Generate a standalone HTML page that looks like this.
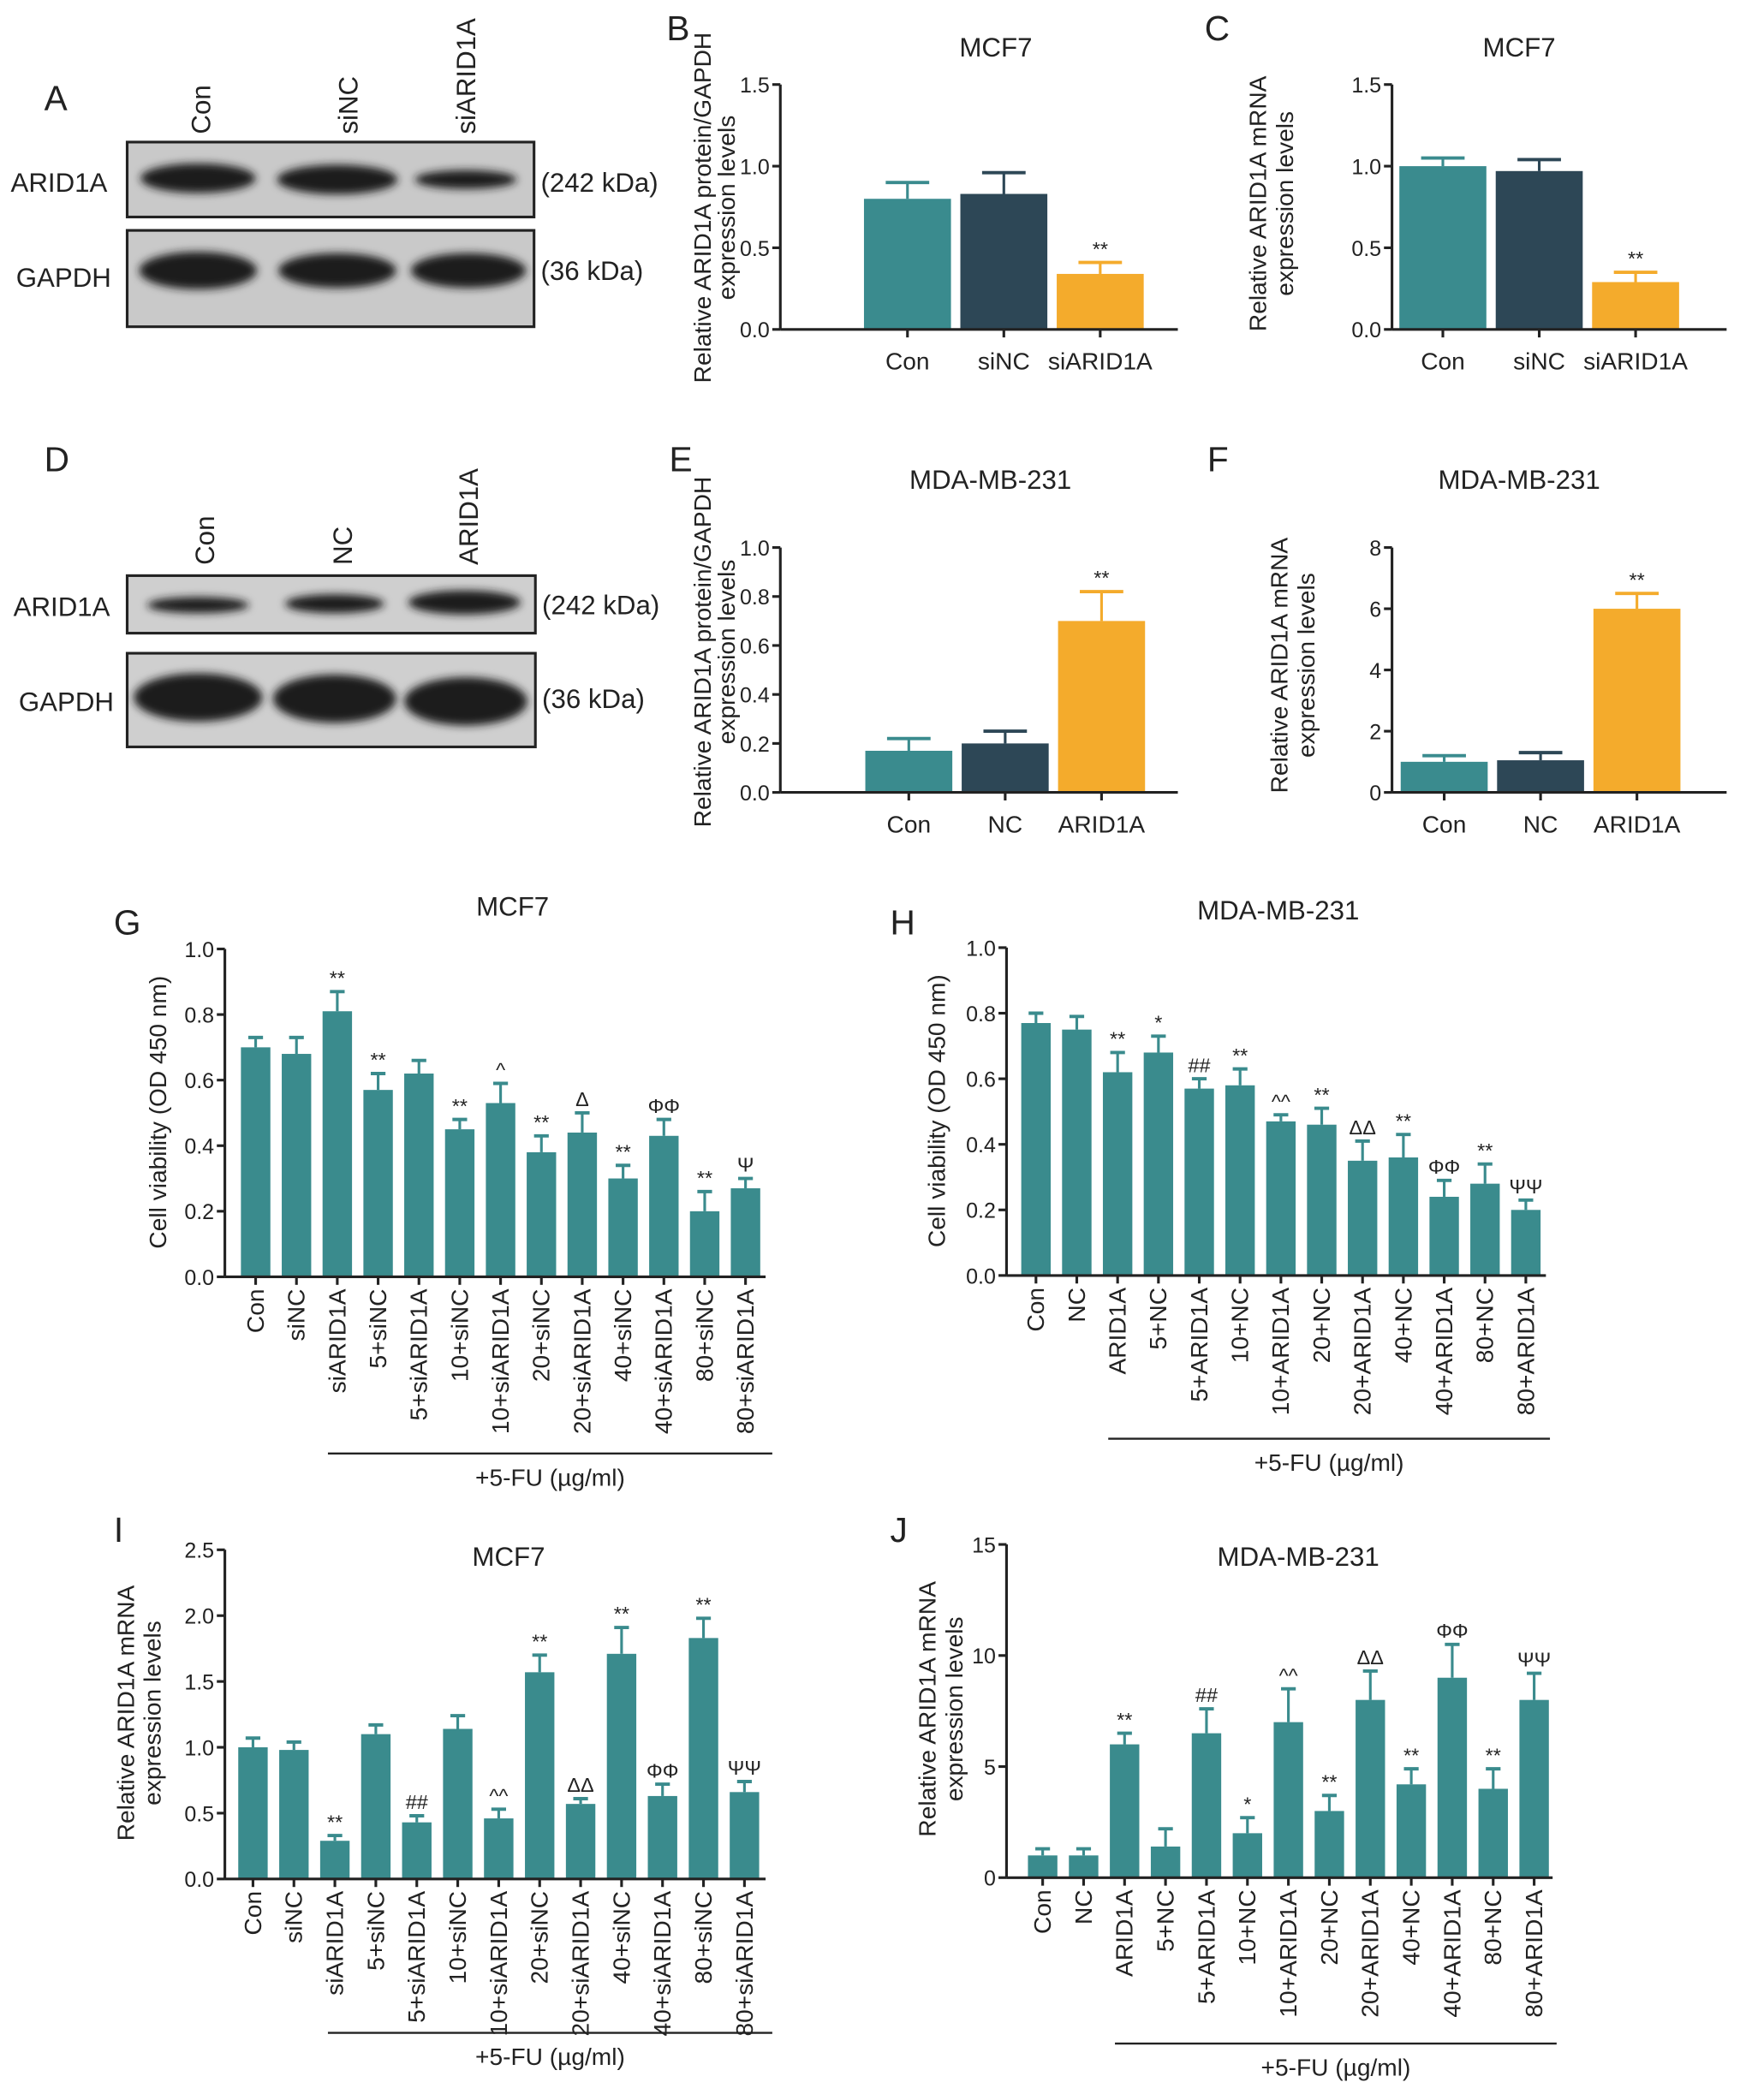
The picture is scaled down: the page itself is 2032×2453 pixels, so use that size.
<!DOCTYPE html>
<html><head><meta charset="utf-8"><style>
html,body{margin:0;padding:0;background:#fff}
svg{display:block}
text{font-family:"Liberation Sans",sans-serif;fill:#222}
</style></head><body>
<svg id="fig" width="2032" height="2453" viewBox="0 0 1300 1569" xmlns="http://www.w3.org/2000/svg">
<defs><filter id="blur" x="-20%" y="-50%" width="140%" height="200%"><feGaussianBlur stdDeviation="3"/></filter></defs>
<g font-size="26">
<text x="33" y="82">A</text><text x="498" y="30">B</text><text x="900" y="30">C</text>
<text x="33" y="352">D</text><text x="500" y="352">E</text><text x="902" y="352">F</text>
<text x="85" y="698">G</text><text x="665" y="698">H</text><text x="85" y="1152">I</text><text x="665" y="1152">J</text>
</g>
<g>
<text transform="translate(157,100) rotate(-90)" font-size="20">Con</text>
<text transform="translate(267,100) rotate(-90)" font-size="20">siNC</text>
<text transform="translate(355,100) rotate(-90)" font-size="20">siARID1A</text>
<rect x="95" y="106" width="304" height="56" fill="#c9c9c9" stroke="#222" stroke-width="2"/>
<rect x="95" y="172" width="304" height="72" fill="#c9c9c9" stroke="#222" stroke-width="2"/>
<g filter="url(#blur)" fill="#1a1a1a">
<ellipse cx="148" cy="133" rx="43" ry="11"/><ellipse cx="252" cy="134" rx="45" ry="11"/><ellipse cx="348" cy="134" rx="38" ry="7"/>
<ellipse cx="148" cy="202" rx="44" ry="14"/><ellipse cx="252" cy="202" rx="44" ry="13"/><ellipse cx="350" cy="202" rx="43" ry="13"/>
</g>
<text x="8" y="143" font-size="20">ARID1A</text><text x="12" y="214" font-size="20">GAPDH</text>
<text x="404" y="143" font-size="20">(242 kDa)</text><text x="404" y="209" font-size="20">(36 kDa)</text>
</g>
<g>
<text transform="translate(160,422) rotate(-90)" font-size="20">Con</text>
<text transform="translate(263,422) rotate(-90)" font-size="20">NC</text>
<text transform="translate(357,422) rotate(-90)" font-size="20">ARID1A</text>
<rect x="95" y="430" width="305" height="43" fill="#cfcfcf" stroke="#222" stroke-width="2"/>
<rect x="95" y="488" width="305" height="70" fill="#cfcfcf" stroke="#222" stroke-width="2"/>
<g filter="url(#blur)" fill="#1a1a1a">
<ellipse cx="148" cy="452" rx="38" ry="6"/><ellipse cx="250" cy="451" rx="37" ry="7"/><ellipse cx="347" cy="450" rx="42" ry="9"/>
<ellipse cx="148" cy="521" rx="48" ry="18"/><ellipse cx="250" cy="522" rx="46" ry="18"/><ellipse cx="348" cy="524" rx="46" ry="18"/>
</g>
<text x="10" y="460" font-size="20">ARID1A</text><text x="14" y="531" font-size="20">GAPDH</text>
<text x="405" y="459" font-size="20">(242 kDa)</text><text x="405" y="529" font-size="20">(36 kDa)</text>
</g>
<g id="charts"></g>
</svg>
<script>
const catsB = ["Con","siNC","siARID1A"];
const valsB = [0.80,0.83,0.34];
const errsB = [0.10,0.13,0.07];
const marksB = ["","","**"];
const ticksB = [0,0.5,1.0,1.5];

const catsC = ["Con","siNC","siARID1A"];
const valsC = [1.00,0.97,0.29];
const errsC = [0.05,0.07,0.06];
const marksC = ["","","**"];
const ticksC = [0,0.5,1.0,1.5];

const catsE = ["Con","NC","ARID1A"];
const valsE = [0.17,0.20,0.70];
const errsE = [0.05,0.05,0.12];
const marksE = ["","","**"];
const ticksE = [0,0.2,0.4,0.6,0.8,1.0];

const catsF = ["Con","NC","ARID1A"];
const valsF = [1.0,1.05,6.0];
const errsF = [0.2,0.25,0.5];
const marksF = ["","","**"];
const ticksF = [0,2,4,6,8];

const catsG = ["Con","siNC","siARID1A","5+siNC","5+siARID1A","10+siNC","10+siARID1A","20+siNC","20+siARID1A","40+siNC","40+siARID1A","80+siNC","80+siARID1A"];
const valsG = [0.70,0.68,0.81,0.57,0.62,0.45,0.53,0.38,0.44,0.30,0.43,0.20,0.27];
const errsG = [0.03,0.05,0.06,0.05,0.04,0.03,0.06,0.05,0.06,0.04,0.05,0.06,0.03];
const marksG = ["","","**","**","","**","^","**","Δ","**","ΦΦ","**","Ψ"];
const ticksG = [0,0.2,0.4,0.6,0.8,1.0];

const catsH = ["Con","NC","ARID1A","5+NC","5+ARID1A","10+NC","10+ARID1A","20+NC","20+ARID1A","40+NC","40+ARID1A","80+NC","80+ARID1A"];
const valsH = [0.77,0.75,0.62,0.68,0.57,0.58,0.47,0.46,0.35,0.36,0.24,0.28,0.20];
const errsH = [0.03,0.04,0.06,0.05,0.03,0.05,0.02,0.05,0.06,0.07,0.05,0.06,0.03];
const marksH = ["","","**","*","##","**","^^","**","ΔΔ","**","ΦΦ","**","ΨΨ"];
const ticksH = [0,0.2,0.4,0.6,0.8,1.0];

const catsI = catsG;
const valsI = [1.00,0.98,0.29,1.10,0.43,1.14,0.46,1.57,0.57,1.71,0.63,1.83,0.66];
const errsI = [0.07,0.06,0.04,0.07,0.05,0.10,0.07,0.13,0.04,0.20,0.09,0.15,0.08];
const marksI = ["","","**","","##","","^^","**","ΔΔ","**","ΦΦ","**","ΨΨ"];
const ticksI = [0,0.5,1.0,1.5,2.0,2.5];

const catsJ = catsH;
const valsJ = [1.0,1.0,6.0,1.4,6.5,2.0,7.0,3.0,8.0,4.2,9.0,4.0,8.0];
const errsJ = [0.3,0.3,0.5,0.8,1.1,0.7,1.5,0.7,1.3,0.7,1.5,0.9,1.2];
const marksJ = ["","","**","","##","*","^^","**","ΔΔ","**","ΦΦ","**","ΨΨ"];
const ticksJ = [0,5,10,15];

const NS = "http://www.w3.org/2000/svg";
const root = document.getElementById("charts");
function el(tag, attrs, parent, txt){
  const e = document.createElementNS(NS, tag);
  for (const k in attrs) e.setAttribute(k, attrs[k]);
  if (txt !== undefined) e.textContent = txt;
  parent.appendChild(e);
  return e;
}
function fmt(v, dec){ return dec ? v.toFixed(dec) : String(v); }

function chart(c){
  const g = el("g", {}, root);
  
  
  const max = c.ticks[c.ticks.length-1];
  const ys = v => c.y0 - (v/max)*(c.y0-c.y1);
  const xs = i => c.x0 + c.step*i;
  const t = el("text", {x:c.tx, y:c.ty, "font-size":20, "text-anchor":"middle"}, g, c.title);
  
  
  c.vals.forEach((v,i)=>{
    const col = c.colors ? c.colors[i] : "#3a8b8d";
    const cx = xs(i);
    const top = ys(v);
    const b = el("rect", {x:cx-c.bw/2, y:top, width:c.bw, height:c.y0-top, fill:col}, g);
    
    
    const et = ys(v + c.errs[i]);
    el("line", {x1:cx, x2:cx, y1:top, y2:et, stroke:col, "stroke-width":2}, g);
    el("line", {x1:cx-c.bw*0.25, x2:cx+c.bw*0.25, y1:et, y2:et, stroke:col, "stroke-width":2.5}, g);
    if (c.marks[i]) {
      const m = el("text", {x:cx, y:et-5, "font-size":15, "text-anchor":"middle"}, g, c.marks[i]);
      
      
    }
  });
  el("line", {x1:c.ax, x2:c.ax, y1:c.y1, y2:c.y0, stroke:"#222", "stroke-width":2}, g);
  el("line", {x1:c.ax, x2:c.xend, y1:c.y0, y2:c.y0, stroke:"#222", "stroke-width":2}, g);
  c.ticks.forEach(tv=>{
    const y = ys(tv);
    el("line", {x1:c.ax-6, x2:c.ax, y1:y, y2:y, stroke:"#222", "stroke-width":2}, g);
    const tl = el("text", {x:c.ax-8, y:y+6, "font-size":16, "text-anchor":"end"}, g, fmt(tv, c.dec));
    
    
  });
  c.cats.forEach((cat,i)=>{
    const cx = xs(i);
    el("line", {x1:cx, x2:cx, y1:c.y0, y2:c.y0+6, stroke:"#222", "stroke-width":2}, g);
    let lt;
    if (c.rot) lt = el("text", {transform:`translate(${cx+6},${c.y0+9}) rotate(-90)`, "font-size":18, "text-anchor":"end"}, g, cat);
    else lt = el("text", {x:cx, y:c.y0+30, "font-size":18, "text-anchor":"middle"}, g, cat);
    
    
  });
  c.ytitle.forEach((line,k)=>{
    const yt = el("text", {transform:`translate(${c.ytx[k]},${c.yty}) rotate(-90)`, "font-size":18, "text-anchor":"middle"}, g, line);
    
    
  });
  if (c.br) {
    el("line", {x1:c.br[0], x2:c.br[1], y1:c.br[2], y2:c.br[2], stroke:"#222", "stroke-width":1.5}, g);
    const bt = el("text", {x:(c.br[0]+c.br[1])/2, y:c.br[2]+24, "font-size":18, "text-anchor":"middle"}, g, "+5-FU (µg/ml)");
    
    
  }
}
const cols3 = ["#3a8b8e","#2d4756","#f4ab2c"];
const t2 = ["Relative ARID1A protein/GAPDH","expression levels"];
const t3 = ["Relative ARID1A mRNA","expression levels"];
chart({name:"chart-b", title:"MCF7", tx:744, ty:42, cats:catsB, vals:valsB, errs:errsB, marks:marksB, ticks:ticksB, dec:1, ax:583, y0:246, y1:63, x0:678, step:72, bw:65, xend:880, colors:cols3, ytitle:t2, ytx:[531,549], yty:155});
chart({name:"chart-c", title:"MCF7", tx:1135, ty:42, cats:catsC, vals:valsC, errs:errsC, marks:marksC, ticks:ticksC, dec:1, ax:1040, y0:246, y1:63, x0:1078, step:72, bw:65, xend:1290, colors:cols3, ytitle:t3, ytx:[946,966], yty:152});
chart({name:"chart-e", title:"MDA-MB-231", tx:740, ty:365, cats:catsE, vals:valsE, errs:errsE, marks:marksE, ticks:ticksE, dec:1, ax:583, y0:592, y1:409, x0:679, step:72, bw:65, xend:880, colors:cols3, ytitle:t2, ytx:[531,549], yty:487});
chart({name:"chart-f", title:"MDA-MB-231", tx:1135, ty:365, cats:catsF, vals:valsF, errs:errsF, marks:marksF, ticks:ticksF, dec:0, ax:1040, y0:592, y1:409, x0:1079, step:72, bw:65, xend:1290, colors:cols3, ytitle:t3, ytx:[962,982], yty:497});
chart({name:"chart-g", title:"MCF7", tx:383, ty:684, cats:catsG, vals:valsG, errs:errsG, marks:marksG, ticks:ticksG, dec:1, ax:168, y0:954, y1:709, x0:191, step:30.5, bw:22, xend:572, rot:true, ytitle:["Cell viability (OD 450 nm)"], ytx:[124], yty:831, br:[245,577,1086]});
chart({name:"chart-h", title:"MDA-MB-231", tx:955, ty:687, cats:catsH, vals:valsH, errs:errsH, marks:marksH, ticks:ticksH, dec:1, ax:752, y0:953, y1:708, x0:774, step:30.5, bw:22, xend:1155, rot:true, ytitle:["Cell viability (OD 450 nm)"], ytx:[706], yty:830, br:[828,1158,1075]});
chart({name:"chart-i", title:"MCF7", tx:380, ty:1170, cats:catsI, vals:valsI, errs:errsI, marks:marksI, ticks:ticksI, dec:1, ax:168, y0:1404, y1:1158, x0:189, step:30.6, bw:22, xend:572, rot:true, ytitle:t3, ytx:[100,120], yty:1280, br:[245,577,1519]});
chart({name:"chart-j", title:"MDA-MB-231", tx:970, ty:1170, cats:catsJ, vals:valsJ, errs:errsJ, marks:marksJ, ticks:ticksJ, dec:0, ax:752, y0:1403, y1:1154, x0:779, step:30.6, bw:22, xend:1160, rot:true, ytitle:t3, ytx:[699,719], yty:1277, br:[833,1163,1527]});
</script>
</body></html>
